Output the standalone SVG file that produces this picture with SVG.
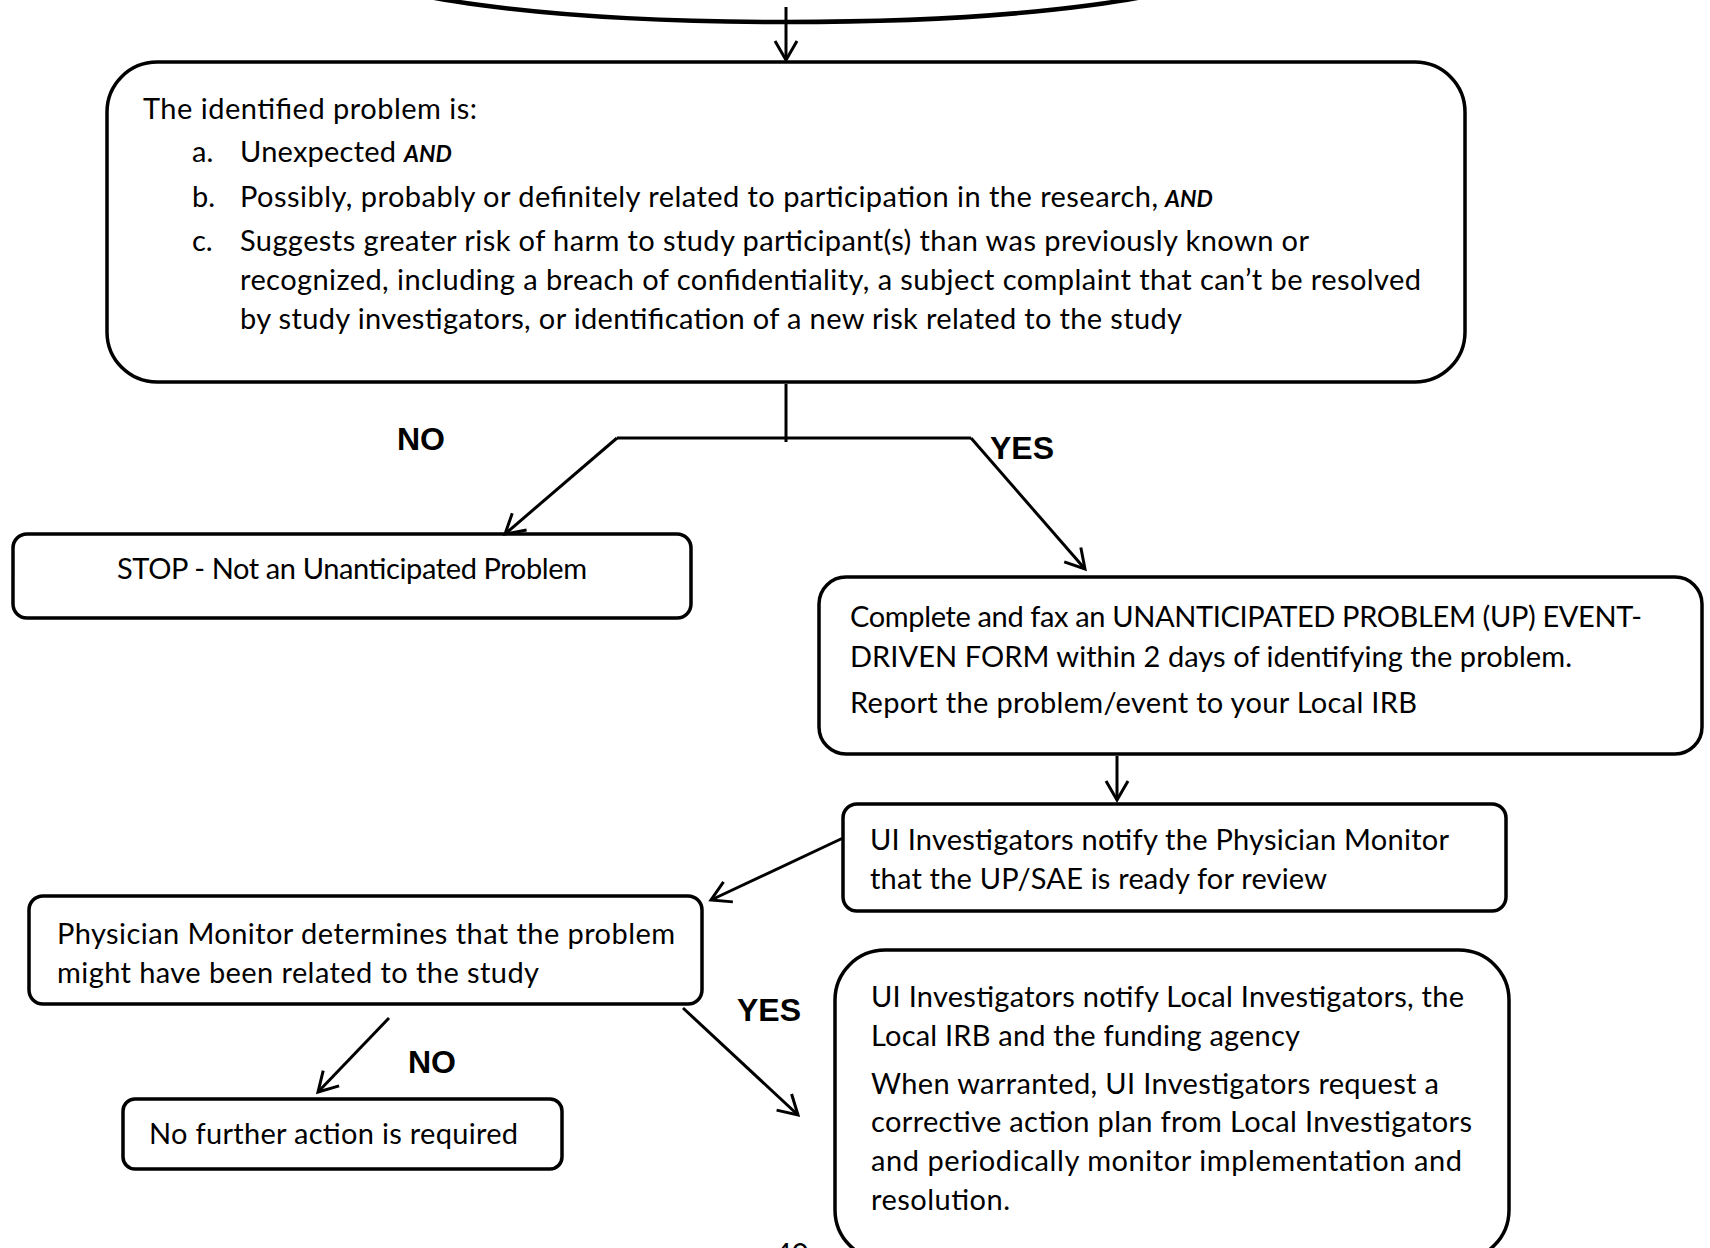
<svg xmlns="http://www.w3.org/2000/svg" width="1710" height="1248" viewBox="0 0 1710 1248">
<style>
.box{fill:#fff;stroke:#000;stroke-width:3.5}
.t{font-family:Lato,"Liberation Sans",sans-serif;font-size:29px;fill:#000}
.and{font-family:Lato,"Liberation Sans",sans-serif;font-size:23px;font-weight:bold;font-style:italic}
.lbl{font-family:"Liberation Sans",Arial,sans-serif;font-size:32px;font-weight:bold;fill:#000}
.c{fill:none;stroke:#000;stroke-width:3}
</style>
<defs>
<marker id="ah" markerWidth="24" markerHeight="26" refX="21" refY="13" orient="auto" markerUnits="userSpaceOnUse" viewBox="0 0 24 26">
<path d="M2,2 L21,13 L2,24" fill="none" stroke="#000" stroke-width="3"/>
</marker>
</defs>
<rect width="1710" height="1248" fill="#fff"/>
<g id="start">
<ellipse cx="786" cy="-35" rx="430" ry="57" fill="#fff" stroke="#000" stroke-width="4.5"/>
</g>
<g id="criteria">
<rect class="box" x="107" y="62" width="1358" height="320" rx="50"/>
<text class="t" x="143" y="119" textLength="334" lengthAdjust="spacing">The identified problem is:</text>
<text class="t" x="192" y="162">a.</text>
<text class="t" x="240" y="162" textLength="156" lengthAdjust="spacing">Unexpected</text>
<text class="and" x="404" y="162">AND</text>
<text class="t" x="192" y="207">b.</text>
<text class="t" x="240" y="207" textLength="918" lengthAdjust="spacing">Possibly, probably or definitely related to participation in the research,</text>
<text class="and" x="1165" y="207">AND</text>
<text class="t" x="192" y="251">c.</text>
<text class="t" x="240" y="251" textLength="1069" lengthAdjust="spacing">Suggests greater risk of harm to study participant(s) than was previously known or</text>
<text class="t" x="240" y="290" textLength="1181" lengthAdjust="spacing">recognized, including a breach of confidentiality, a subject complaint that can’t be resolved</text>
<text class="t" x="240" y="329" textLength="942" lengthAdjust="spacing">by study investigators, or identification of a new risk related to the study</text>
</g>
<g id="stop">
<rect class="box" x="13" y="534" width="678" height="84" rx="14"/>
<text class="t" x="117" y="579" textLength="470" lengthAdjust="spacing">STOP - Not an Unanticipated Problem</text>
</g>
<g id="complete">
<rect class="box" x="819" y="577" width="883" height="177" rx="27"/>
<text class="t" x="850" y="627" textLength="792" lengthAdjust="spacing">Complete and fax an UNANTICIPATED PROBLEM (UP) EVENT-</text>
<text class="t" x="850" y="667" textLength="722" lengthAdjust="spacing">DRIVEN FORM within 2 days of identifying the problem.</text>
<text class="t" x="850" y="713" textLength="567" lengthAdjust="spacing">Report the problem/event to your Local IRB</text>
</g>
<g id="notify-monitor">
<rect class="box" x="843" y="804" width="663" height="107" rx="14"/>
<text class="t" x="870" y="850" textLength="579" lengthAdjust="spacing">UI Investigators notify the Physician Monitor</text>
<text class="t" x="870" y="889" textLength="457" lengthAdjust="spacing">that the UP/SAE is ready for review</text>
</g>
<g id="monitor">
<rect class="box" x="29" y="896" width="673" height="108" rx="14"/>
<text class="t" x="57" y="944" textLength="618" lengthAdjust="spacing">Physician Monitor determines that the problem</text>
<text class="t" x="57" y="983" textLength="482" lengthAdjust="spacing">might have been related to the study</text>
</g>
<g id="no-action">
<rect class="box" x="123" y="1099" width="439" height="70" rx="12"/>
<text class="t" x="149" y="1144" textLength="369" lengthAdjust="spacing">No further action is required</text>
</g>
<g id="notify-local">
<rect class="box" x="835" y="950" width="674" height="310" rx="50"/>
<text class="t" x="871" y="1007" textLength="593" lengthAdjust="spacing">UI Investigators notify Local Investigators, the</text>
<text class="t" x="871" y="1046" textLength="429" lengthAdjust="spacing">Local IRB and the funding agency</text>
<text class="t" x="871" y="1094" textLength="568" lengthAdjust="spacing">When warranted, UI Investigators request a</text>
<text class="t" x="871" y="1132" textLength="601" lengthAdjust="spacing">corrective action plan from Local Investigators</text>
<text class="t" x="871" y="1171" textLength="591" lengthAdjust="spacing">and periodically monitor implementation and</text>
<text class="t" x="871" y="1210" textLength="139" lengthAdjust="spacing">resolution.</text>
</g>
<g id="connectors">
<line class="c" x1="786" y1="7" x2="786" y2="60" marker-end="url(#ah)"/>
<line class="c" x1="786" y1="384" x2="786" y2="442"/>
<polyline class="c" points="617,438 971,438"/>
<line class="c" x1="617" y1="438" x2="505" y2="534" marker-end="url(#ah)"/>
<line class="c" x1="971" y1="438" x2="1085" y2="569" marker-end="url(#ah)"/>
<line class="c" x1="1117" y1="756" x2="1117" y2="800" marker-end="url(#ah)"/>
<line class="c" x1="843" y1="838" x2="711" y2="900" marker-end="url(#ah)"/>
<line class="c" x1="389" y1="1018" x2="318" y2="1092" marker-end="url(#ah)"/>
<line class="c" x1="683" y1="1008" x2="798" y2="1115" marker-end="url(#ah)"/>
</g>
<g id="labels">
<text class="lbl" x="397" y="450">NO</text>
<text class="lbl" x="990" y="459">YES</text>
<text class="lbl" x="737" y="1021">YES</text>
<text class="lbl" x="408" y="1073">NO</text>
<text class="t" x="775" y="1264">40</text>
</g>
</svg>
